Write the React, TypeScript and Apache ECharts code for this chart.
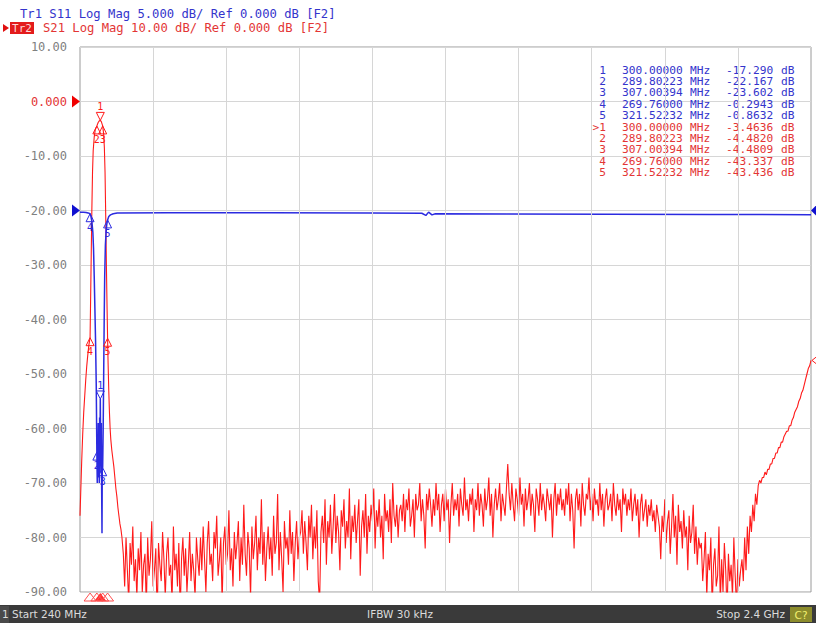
import React, { useEffect, useRef } from 'react';
import * as echarts from 'echarts';

// ---------- sweep / scales ----------
const FREQ_START_MHZ = 240;
const FREQ_STOP_MHZ = 2400;
const X_DIVISIONS = 10;

const S21_AXIS = { min: -90, max: 10, interval: 10 };
const S11_AXIS = { min: -35, max: 15, interval: 5 };

// ---------- S21 (Tr2) around the passband: [MHz, dB] ----------
const S21_FILTER: [number, number][] = [
  [240, -76], [242, -72], [245, -66], [248, -61], [251, -57], [254, -54], [257, -51],
  [260, -48.5], [263, -46.5], [266, -44.8], [269.76, -43.337], [271, -38], [273, -29],
  [275, -20], [277, -13], [279, -9], [282, -6.5], [285, -5.2], [289.80223, -4.482],
  [294, -3.8], [297, -3.55], [300, -3.4636], [303, -3.7], [307.00394, -4.4809], [310, -6],
  [312, -8.5], [314, -13], [316, -21], [318, -30], [320, -38], [321.52232, -43.436],
  [323, -48], [325, -53], [327, -57], [329, -60], [331, -62], [334, -64], [337, -65.5],
  [340, -67], [343, -69], [346, -71], [349, -72.5], [352, -74.5], [355, -76], [358, -77.5],
  [361, -78.5], [364, -80],
];

// ---------- S21 (Tr2) swept noise floor, 368 MHz .. 2400 MHz every 4 MHz ----------
const S21_SWEEP_START_MHZ = 368;
const S21_SWEEP_STEP_MHZ = 4;
const S21_SWEEP_DB: number[] = [
  // 368 - 592
  -83, -89, -80, -86, -92, -81, -85, -78, -88, -84,
  -91, -82, -86, -79, -90, -85, -83, -93, -80, -87,
  -84, -77, -89, -86, -82, -95, -81, -85, -88, -79,
  -84, -91, -83, -80, -87, -85, -92, -78, -86, -83,
  -89, -81, -94, -84, -80, -87, -82, -90, -85, -79,
  -88, -83, -86, -91, -80, -84, -87,
  // 596 - 888
  -80, -86, -78, -84, -90, -81, -77, -85, -83, -88,
  -79, -82, -76, -87, -84, -80, -92, -81, -78, -85,
  -83, -75, -86, -82, -89, -79, -84, -81, -77, -88,
  -80, -85, -74, -83, -87, -79, -82, -91, -78, -84,
  -81, -76, -86, -80, -83, -73, -85, -79, -88, -82,
  -78, -84, -80, -87, -76, -83, -81, -72, -86, -79,
  -84, -90, -77, -82, -80, -85, -75, -83, -79, -88,
  -81, -77, -84, -80,
  // 892 - 1184
  -79, -75, -83, -77, -81, -86, -76, -80, -74, -84,
  -78, -82, -75, -88, -92, -79, -76, -81, -73, -85,
  -77, -80, -74, -83, -78, -72, -81, -76, -79, -86,
  -75, -78, -73, -82, -77, -80, -71, -84, -76, -79,
  -74, -81, -77, -73, -87, -78, -75, -80, -72, -83,
  -76, -79, -74, -77, -71, -82, -75, -78, -73, -80,
  -76, -84, -72, -77, -75, -79, -73, -81, -70, -76,
  -78, -74, -80, -75,
  // 1188 - 1664
  -74, -77, -72, -79, -73, -75, -71, -78, -76, -73,
  -80, -72, -75, -74, -70, -77, -73, -76, -82, -72,
  -75, -71, -74, -78, -73, -76, -70, -75, -72, -79,
  -74, -72, -77, -71, -75, -73, -81, -74, -70, -76,
  -73, -75, -72, -78, -71, -74, -76, -69, -75, -73,
  -77, -72, -74, -71, -79, -73, -75, -70, -76, -72,
  -74, -78, -71, -75, -73, -69, -76, -72, -80, -74,
  -71, -75, -73, -70, -77, -72, -74, -76, -71, -66.5,
  -72, -75, -70, -74, -77, -71, -73, -76, -69, -74,
  -72, -78, -71, -75, -73, -70, -76, -72, -74, -79,
  -71, -73, -76, -70, -75, -72, -74, -77, -71, -73,
  -75, -72, -80, -73, -70, -76, -72, -74, -71, -75,
  // 1668 - 1952
  -73, -76, -71, -74, -70, -77, -72, -75, -82, -73,
  -71, -75, -72, -78, -70, -74, -76, -72, -73, -69,
  -75, -72, -77, -71, -74, -73, -76, -70, -75, -72,
  -78, -73, -71, -75, -74, -72, -77, -70, -74, -76,
  -72, -75, -73, -79, -71, -74, -72, -76, -73, -75,
  -71, -77, -74, -72, -76, -73, -80, -74, -72, -77,
  -75, -73, -78, -74, -76, -73, -77, -75, -79, -74,
  -76, -78,
  // 1956 - 2072
  -84, -76, -79, -73, -81, -77, -75, -83, -78, -72,
  -80, -76, -85, -74, -79, -77, -82, -75, -80, -78,
  -86, -76, -81, -79, -74, -83, -78, -85, -80, -82,
  // 2076 - 2192
  -81, -88, -84, -79, -91, -83, -86, -80, -93, -85,
  -82, -89, -87, -78, -92, -84, -90, -81, -86, -94,
  -83, -88, -85, -91, -80, -87, -93, -84, -89, -86,
  // 2196 - 2240
  -84, -88, -80, -86, -78, -83, -76, -79, -74, -77, -72, -74,
  // 2244 - 2400
  -70.5, -69.5, -70, -69, -69, -68, -68.5, -67.5, -67.5, -66.5,
  -66.5, -65.5, -65.5, -64.5, -64.5, -63.5, -63.5, -62.5, -62.5, -61.5,
  -61, -60.5, -60.5, -59.5, -59.5, -58.5, -58, -57, -56.5, -56,
  -55, -54.5, -53.5, -53, -52, -51, -50, -49, -48.5, -47.5,
];

// ---------- S11 (Tr1): [MHz, dB] ----------
const S11_TRACE: [number, number][] = [
  [240, -0.15], [250, -0.15], [258, -0.18], [264, -0.22], [269.76, -0.2943], [272, -0.5],
  [275, -1], [278, -2], [280, -3.5], [282, -6], [284, -9], [286, -12], [288, -16],
  [289.80223, -22.167], [291, -25], [292, -20.5], [293, -24.5], [294, -19.5], [295, -23.5],
  [296, -21], [297, -25], [298, -19], [299, -22], [300, -17.29], [301, -21.5], [302, -24],
  [303, -19.5], [304, -25.5], [305, -29.6], [306, -22], [307.00394, -23.602], [308.5, -20],
  [310, -15], [311.5, -10], [313, -6], [315, -3.2], [317, -2], [319, -1.3], [321.52232, -0.8632],
  [325, -0.55], [330, -0.4], [338, -0.3], [350, -0.22], [500, -0.2], [800, -0.2], [1100, -0.22],
  [1250, -0.25], [1262, -0.45], [1270, -0.15], [1280, -0.4], [1290, -0.3], [1500, -0.33],
  [1800, -0.35], [2100, -0.37], [2400, -0.38],
];

// ---------- markers ----------
const MARKER_FREQS_MHZ = [300.0, 289.80223, 307.00394, 269.76, 321.52232];
const S11_MARKER_DB = [-17.29, -22.167, -23.602, -0.2943, -0.8632];
const S21_MARKER_DB = [-3.4636, -4.482, -4.4809, -43.337, -43.436];
const ACTIVE_MARKER = 0;

const HEADER_TR1 = 'Tr1 S11 Log Mag 5.000 dB/ Ref 0.000 dB [F2]';
const HEADER_TR2_TAG = 'Tr2';
const HEADER_TR2 = 'S21 Log Mag 10.00 dB/ Ref 0.000 dB [F2]';
const STATUS_LEFT = 'Start 240 MHz';
const STATUS_MID = 'IFBW 30 kHz';
const STATUS_RIGHT = 'Stop 2.4 GHz';

const BLUE = '#2b2be0';
const BLUE_TEXT = '#3434cc';
const RED = '#ff1a1a';
const RED_TEXT = '#e33535';
const MONO = '"DejaVu Sans Mono", monospace';

const fmtDb = (v: number) => (Math.abs(v) >= 10 ? v.toFixed(3) : v.toFixed(4));

export default function App() {
  const ref = useRef<HTMLDivElement>(null);

  useEffect(() => {
    if (!ref.current) return;
    const chart = echarts.init(ref.current, undefined, { renderer: 'svg' });

    const s21Data: [number, number][] = S21_FILTER.concat(
      S21_SWEEP_DB.map((v, i) => [S21_SWEEP_START_MHZ + i * S21_SWEEP_STEP_MHZ, v] as [number, number])
    );
    const divMHz = (FREQ_STOP_MHZ - FREQ_START_MHZ) / X_DIVISIONS;
    const vLines = [];
    for (let k = 1; k < X_DIVISIONS; k++) vLines.push({ xAxis: FREQ_START_MHZ + k * divMHz });

    const markerPoints = (dbs: number[], color: string) =>
      MARKER_FREQS_MHZ.map((f, i) => {
        const active = i === ACTIVE_MARKER;
        return {
          coord: [f, dbs[i]],
          symbol: 'triangle',
          symbolSize: [8, 8],
          symbolRotate: active ? 180 : 0,
          symbolOffset: active ? [0, -4] : [0, 4],
          itemStyle: { color: 'rgba(0,0,0,0)', borderColor: color, borderWidth: 1 },
          label: {
            show: true,
            formatter: String(i + 1),
            position: active ? 'top' : 'bottom',
            distance: 0,
            color,
            fontSize: 10,
            fontFamily: MONO,
          },
        };
      });

    chart.setOption({
      animation: false,
      backgroundColor: '#ffffff',
      grid: {
        left: 80,
        right: 5,
        top: 47,
        bottom: 31,
        show: true,
        borderColor: '#9a9a9a',
        borderWidth: 1,
        backgroundColor: '#ffffff',
      },
      xAxis: {
        type: 'value',
        min: FREQ_START_MHZ,
        max: FREQ_STOP_MHZ,
        axisLabel: { show: false },
        axisTick: { show: false },
        axisLine: { show: false },
        splitLine: { show: false },
      },
      yAxis: [
        {
          type: 'value',
          min: S21_AXIS.min,
          max: S21_AXIS.max,
          interval: S21_AXIS.interval,
          axisLine: { show: false },
          axisTick: { show: false },
          splitLine: { show: true, lineStyle: { color: '#d6d6d6', width: 1 } },
          axisLabel: {
            margin: 13,
            fontFamily: MONO,
            fontSize: 12,
            color: (v: any) => (Number(v) === 0 ? RED_TEXT : '#808080'),
            formatter: (v: number) => (v === 0 ? '0.000' : v.toFixed(2)),
          },
        },
        {
          type: 'value',
          min: S11_AXIS.min,
          max: S11_AXIS.max,
          interval: S11_AXIS.interval,
          show: false,
          splitLine: { show: false },
        },
      ],
      series: [
        {
          name: 'grid',
          type: 'line',
          data: [],
          silent: true,
          markLine: {
            silent: true,
            symbol: 'none',
            label: { show: false },
            lineStyle: { color: '#d6d6d6', type: 'solid', width: 1 },
            data: vLines,
          },
        },
        {
          name: 'S21',
          type: 'line',
          yAxisIndex: 0,
          data: s21Data,
          showSymbol: false,
          symbol: 'none',
          clip: true,
          lineStyle: { color: RED, width: 1.1 },
          z: 3,
          markPoint: { silent: true, data: markerPoints(S21_MARKER_DB, RED) },
        },
        {
          name: 'S11',
          type: 'line',
          yAxisIndex: 1,
          data: S11_TRACE,
          showSymbol: false,
          symbol: 'none',
          clip: true,
          lineStyle: { color: BLUE, width: 1.5 },
          z: 4,
          markPoint: { silent: true, data: markerPoints(S11_MARKER_DB, BLUE) },
        },
      ],
    });

    // annotations that depend on the axes
    const gridRight = 816 - 5;
    const y21Ref = chart.convertToPixel({ yAxisIndex: 0 }, 0) as number;
    const y11Ref = chart.convertToPixel({ yAxisIndex: 1 }, 0) as number;
    const yEnd = chart.convertToPixel({ yAxisIndex: 0 }, S21_SWEEP_DB[S21_SWEEP_DB.length - 1]) as number;

    const graphic: any[] = [];
    // reference level arrows
    graphic.push({ type: 'polygon', shape: { points: [[72, y21Ref - 6], [80, y21Ref], [72, y21Ref + 6]] }, style: { fill: '#f00000' } });
    graphic.push({ type: 'polygon', shape: { points: [[72, y11Ref - 6], [80, y11Ref], [72, y11Ref + 6]] }, style: { fill: '#1010d0' } });
    graphic.push({ type: 'polygon', shape: { points: [[817, y11Ref - 6], [gridRight, y11Ref], [817, y11Ref + 6]] }, style: { fill: '#1010d0' } });
    graphic.push({ type: 'polygon', shape: { points: [[817, yEnd - 4], [gridRight + 1, yEnd], [817, yEnd + 4]] }, style: { fill: 'none', stroke: RED, lineWidth: 1 } });

    // stimulus markers under the grid
    MARKER_FREQS_MHZ.forEach((f, i) => {
      const x = chart.convertToPixel({ xAxisIndex: 0 }, f) as number;
      const active = i === ACTIVE_MARKER;
      graphic.push({
        type: 'polygon',
        shape: { points: [[x - 6, 601], [x, 593], [x + 6, 601]] },
        style: active ? { fill: '#ff3030' } : { fill: 'none', stroke: '#ff5050', lineWidth: 1 },
      });
    });

    // header
    graphic.push({ type: 'text', x: 20, y: 14, style: { text: HEADER_TR1, fill: BLUE_TEXT, fontSize: 12.2, fontFamily: MONO, verticalAlign: 'middle' } });
    graphic.push({ type: 'polygon', shape: { points: [[3, 24], [9, 28], [3, 32]] }, style: { fill: '#e01010' } });
    graphic.push({ type: 'rect', shape: { x: 10, y: 22, width: 24, height: 12 }, style: { fill: '#e31b1b' } });
    graphic.push({ type: 'text', x: 22, y: 28, style: { text: HEADER_TR2_TAG, fill: '#ffd6d6', fontSize: 11, fontFamily: MONO, align: 'center', verticalAlign: 'middle' } });
    graphic.push({ type: 'text', x: 43, y: 28, style: { text: HEADER_TR2, fill: RED_TEXT, fontSize: 12.2, fontFamily: MONO, verticalAlign: 'middle' } });

    // marker table
    const rows: { idx: string; f: number; v: number; color: string }[] = [];
    MARKER_FREQS_MHZ.forEach((f, i) => rows.push({ idx: String(i + 1), f, v: S11_MARKER_DB[i], color: BLUE_TEXT }));
    MARKER_FREQS_MHZ.forEach((f, i) =>
      rows.push({ idx: (i === ACTIVE_MARKER ? '>' : '') + String(i + 1), f, v: S21_MARKER_DB[i], color: RED_TEXT })
    );
    rows.forEach((r, k) => {
      const y = 70 + k * 11.4;
      const st = { fill: r.color, fontSize: 11.2, fontFamily: MONO, verticalAlign: 'middle' };
      graphic.push({ type: 'text', x: 606, y, style: { ...st, text: r.idx, align: 'right' } });
      graphic.push({ type: 'text', x: 622, y, style: { ...st, text: r.f.toFixed(5) } });
      graphic.push({ type: 'text', x: 690, y, style: { ...st, text: 'MHz' } });
      graphic.push({ type: 'text', x: 726, y, style: { ...st, text: fmtDb(r.v) } });
      graphic.push({ type: 'text', x: 781, y, style: { ...st, text: 'dB' } });
    });

    // status bar
    graphic.push({ type: 'rect', shape: { x: 0, y: 605, width: 816, height: 18 }, style: { fill: '#3a3a3a' } });
    graphic.push({ type: 'rect', shape: { x: 0, y: 606, width: 9, height: 17 }, style: { fill: '#4a4a4a' } });
    const stStyle = { fill: '#dcdcdc', fontSize: 10.5, fontFamily: '"DejaVu Sans", sans-serif', verticalAlign: 'middle' };
    graphic.push({ type: 'text', x: 2, y: 614, style: { ...stStyle, text: '1' } });
    graphic.push({ type: 'text', x: 12, y: 614, style: { ...stStyle, text: STATUS_LEFT } });
    graphic.push({ type: 'text', x: 400, y: 614, style: { ...stStyle, text: STATUS_MID, align: 'center' } });
    graphic.push({ type: 'text', x: 785, y: 614, style: { ...stStyle, text: STATUS_RIGHT, align: 'right' } });
    graphic.push({ type: 'rect', shape: { x: 790, y: 607, width: 22, height: 15 }, style: { fill: '#8c8c2c' } });
    graphic.push({ type: 'text', x: 801, y: 614.5, style: { ...stStyle, text: 'C?', fill: '#f0f070', align: 'center' } });

    chart.setOption({ graphic });

    return () => chart.dispose();
  }, []);

  return <div ref={ref} style={{ position: 'fixed', left: 0, top: 0, width: 816, height: 623 }} />;
}
